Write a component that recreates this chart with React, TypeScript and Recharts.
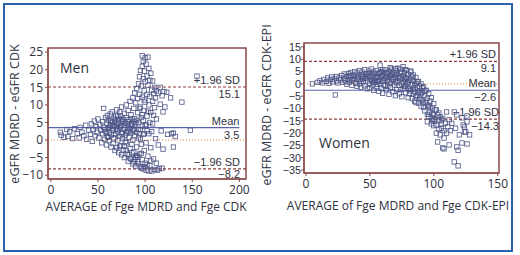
import React from 'react';
import { ScatterChart, Scatter, XAxis, YAxis, ReferenceLine, ReferenceArea } from 'recharts';

const FONT = '"Open Sans", "Noto Sans", sans-serif';
const SMALL_FONT = '"Liberation Sans", Arial, sans-serif';
const TEXT = '#2e3140';
const AXIS = '#8a4848';
const DOT = '#4e5688';

// Men: average vs difference (MDRD - CDK)
const MEN_X_TICKS = [0, 50, 100, 150, 200];
const MEN_Y_TICKS = [-10, -5, 0, 5, 10, 15, 20, 25];
const MEN_LIMITS = [15.1, 3.5, -8.2]; // +1.96 SD, mean, -1.96 SD

// Women: average vs difference (MDRD - CDK-EPI)
const WOMEN_X_TICKS = [0, 50, 100, 150];
const WOMEN_Y_TICKS = [-35, -30, -25, -20, -15, -10, -5, 0, 5, 10, 15];
const WOMEN_LIMITS = [9.1, -2.6, -14.3];

const MEN_POINTS: [number, number][] = [
  [10, 2.2], [11, 1.4], [14, 0.8], [17, 3], [18, 1], [20, 2.4], [23, 0.4], [25, 3.2], [28, 1.8], [30, 0.6],
  [31, 3.6], [33, 2.2], [35, 1.2], [37, 4.2], [38, 0.2], [40, 2.8], [42, 1.6], [43, 4.6], [44, -0.4], [45, 3],
  [46, 5.4], [47, 1.2], [48, 3.8], [49, 2.2], [50, 6], [51, 0.6], [52, 4.4], [53, 2.8], [54, -0.8], [55, 5.2],
  [55, 1.8], [56, 9], [56, 3.6], [57, 0.2], [58, 6.4], [58, 2.4], [59, 4.8], [59, -1.4], [60, 1], [60, 7],
  [61, 3.2], [61, 5.6], [62, -0.2], [62, 2], [63, 7.4], [63, 4], [64, -2], [64, 1.4], [65, 5], [65, 8],
  [66, 2.8], [66, -1], [67, 6.2], [67, 0.6], [68, 3.8], [68, -3], [69, 7], [69, 1.8], [70, 4.6], [70, -2.2],
  [70, 8.6], [71, 2.6], [71, 0], [72, 5.8], [72, -3.6], [73, 3.4], [73, 1], [74, 6.8], [74, -1.6], [75, 4.2],
  [75, 9.4], [75, -4.2], [75, 2], [73, 8], [76, 0.4], [76, 5.2], [77, -2.8], [77, 3], [78, 7.6], [78, -5],
  [79, 1.4], [79, 4.8], [80, -0.8], [80, 6.4], [80, 10], [81, 2.4], [81, -4], [82, 8.4], [82, -6], [82, 3.8],
  [83, 0.8], [83, 5.8], [84, -2.4], [84, 11], [85, 2], [85, -5.4], [85, 7.2], [86, 4.4], [86, -1.2], [87, 12],
  [87, 0], [87, -6.8], [88, 9], [88, 3], [88, -3.4], [89, 6], [89, 1.2], [89, 13.4], [90, -5], [90, 4.6],
  [90, 10.6], [90, -7.4], [91, 2.2], [91, 14.6], [91, -2], [92, 7.8], [92, -6.2], [92, 11.8], [93, 16], [93, 0.6],
  [93, 5], [94, -4], [94, 13], [94, 18], [95, 3], [95, -7.6], [95, 9.4], [95, 19.8], [96, 15.4], [96, -1.2],
  [96, 6.4], [97, 24], [97, 21], [97, -5.6], [97, 12.2], [98, 1.6], [98, 17.4], [98, -8.2], [98, 22.4], [99, 8.4],
  [99, -3], [99, 14], [99, 19.6], [100, 23.4], [100, 4], [100, -6.6], [100, 10.8], [100, 16.6], [101, 21.6], [101, -0.8],
  [101, -8.6], [102, 18.2], [102, 6.8], [102, 13], [103, 23.6], [103, -4.6], [103, 15.6], [104, 20.4], [104, 1.8], [104, 10],
  [105, -7.2], [105, 17], [105, 12.4], [106, 19], [106, -2.2], [106, 7.8], [107, 14.2], [107, -8.8], [108, 16.8], [108, 4.6],
  [108, 11], [109, -5.4], [109, 13.2], [110, 9.2], [110, -8.4], [110, 15], [111, 0.4], [111, 12], [112, -6.6], [112, 6],
  [112, 14], [113, -8.6], [114, 13.4], [114, -1.4], [115, -8.2], [116, 10.2], [116, 15], [117, 2.6], [118, -8], [118, 12.6],
  [119, -2.6], [119, 8], [120, 13.8], [121, 9.4], [123, 13.6], [124, 1.6], [127, 12], [128, 1.8], [130, 2], [130, -2],
  [132, 1], [139, 10.8], [148, 2.8], [155, 18.2],
  [62, 3.6], [64, 5.4], [66, 4.2], [68, 5.6], [70, 3.2], [72, 4.8], [74, 3.8], [76, 2.2], [78, 4.2], [80, 2],
  [82, 5.2], [84, 3.2], [86, 6], [88, 5.2], [78, -1.8], [80, -3], [83, -4.2], [86, -3.6], [89, -5.6], [92, -4.8],
  [94, 1.8], [96, -3.8], [98, 5.6], [102, 2.6], [94, 9], [97, 7.2], [99, 11.4],
  [57, 3], [59, 2], [61, 0.8], [63, 5.6], [65, 3.4], [67, 1.6], [69, 5.2], [71, 6.8], [73, -1.8], [75, 6],
  [77, 5.8], [79, -0.4], [81, 4.6], [83, 2.4], [85, 4.6], [87, 2.8], [89, 3.8], [91, 5.6], [93, 3], [95, 0.2],
  [97, 4], [99, 1.8], [101, 4.4], [103, 8.2], [105, 5], [107, 2.4], [109, 7], [91, -4.4], [93, -6.8], [96, -8],
  [99, -7.6], [102, -7], [104, -8.8], [106, -6], [84, -5.2], [88, -6.2],
];

const WOMEN_POINTS: [number, number][] = [
  [5, 0], [9, 0.6], [11, 1.2], [13, 0.4], [14, 1.8], [16, 1], [17, 2.4], [18, 0.2], [19, 1.6], [20, 2.8],
  [21, 0.8], [22, 2], [23, -4.5], [24, 3], [24, 1.2], [25, 0.4], [26, 2.4], [27, 1.6], [28, 3.4], [29, 0.6],
  [30, 2.2], [30, 4], [31, 1.2], [32, 3], [32, -0.2], [33, 4.2], [33, 1.8], [34, 0.6], [35, 2.8], [35, 4.6],
  [36, -0.6], [36, 1.4], [37, 3.6], [38, 2.2], [38, 5], [39, 0.2], [39, 3.2], [40, -1], [40, 4.4], [41, 1.6],
  [41, 2.8], [42, 5.4], [42, 0], [43, 3.8], [43, -1.4], [44, 2], [44, 4.8], [45, 0.8], [45, 3], [46, 5.8],
  [46, -0.8], [47, 2.4], [47, 4], [48, 1.2], [48, -2], [49, 3.4], [49, 5.2], [50, 0.2], [50, 2.6], [50, -1.6],
  [50, 4.4], [51, 1.8], [51, 6], [52, -0.4], [52, 3.6], [53, 4.8], [53, -2.6], [54, 2], [54, 0.8], [55, 5.4],
  [55, -1.2], [56, 3], [56, 1.4], [57, 4.2], [57, -3], [58, 7.6], [58, 2.4], [58, 0], [59, 5], [59, -1.8],
  [60, 3.4], [60, 1], [60, -3.8], [61, 4.6], [61, 2], [62, -0.8], [62, 5.8], [63, 3], [63, -2.4], [64, 1.4],
  [64, 4], [65, -4.2], [65, 2.6], [65, 5.2], [66, 0.2], [66, -1.6], [67, 3.6], [67, 6], [68, -3.2], [68, 1.8],
  [69, 4.4], [69, -0.4], [70, 2.8], [70, -4.8], [70, 5.4], [70, 0.8], [71, -2.4], [71, 3.8], [72, 1.2], [72, 6.4],
  [73, -4], [73, -0.6], [74, 4.8], [74, 2.2], [75, -5.2], [75, 0], [76, 3.2], [76, 7], [76, -2], [77, 1.6],
  [77, 4.6], [78, -3.6], [78, -0.8], [79, 2.6], [79, 5.4], [80, -5.6], [80, 0.6], [80, 3.8], [81, -1.8], [81, -4],
  [82, 2], [82, 4.8], [83, -0.4], [83, -6], [84, 1.4], [84, 3.6], [85, -3], [85, -7], [86, 0.2], [86, 2.6],
  [87, -4.6], [87, -1.6], [88, 1], [88, -7.8], [89, -2.8], [89, -5.8], [90, 0], [90, -9], [91, -3.4], [91, -6.6],
  [92, -1.2], [92, -9.6], [93, -4.8], [93, -11], [94, -7.6], [94, -2.6], [95, -5.8], [95, -12.4], [95, -15.4], [96, -9],
  [96, -4], [97, -11.6], [97, -7], [98, -13.8], [98, -5.6], [99, -9.8], [99, -15], [100, -8], [100, -12.4], [100, -17],
  [101, -10.6], [101, -14.4], [102, -16.7], [102, -20], [102, -10.6], [103, -12.6], [103, -23.6], [104, -15], [104, -18.4], [105, -13.4],
  [105, -20.7], [106, -16.4], [106, -18], [107, -26], [107, -14], [108, -22], [108, -19], [108, -26.4], [109, -16], [110, -11.4],
  [110, -20], [111, -17.4], [112, -24.8], [112, -14.6], [113, -19], [114, -16], [116, -11.4], [116, -31.7], [117, -18], [118, -12.6],
  [118, -25.6], [119, -27], [119, -33.3], [120, -20.7], [122, -13.8], [122, -24], [123, -16.7], [124, -19.5], [124, -17.5], [125, -19.5],
  [126, -15.4], [126, -24.4], [126, -13], [128, -20.7],
  [44, 3.2], [52, 1.2], [54, 4.2], [56, -0.2], [58, 4.6], [62, 2.2], [64, -1], [66, 3.4], [68, 4.6], [72, 2.6],
  [74, -2.4], [76, 0.8], [78, 2.2], [80, -2.2], [82, -2.8], [84, -1.8], [86, -5.2], [88, -3.6], [90, -6.4], [92, -7.4],
  [34, 3.4], [37, 1.8], [40, 2.4], [43, 1], [46, 2.2], [48, 4.2], [51, 3.2], [53, 0.6], [55, 2.6], [57, 1],
  [59, 3], [61, -0.4], [63, 4.6], [65, 0.8], [67, 2], [69, 2.6], [71, 0.4], [73, 3.2], [75, 4.4], [77, -1],
  [79, 0.2], [81, 1.4], [83, 2.8], [85, -0.6], [87, 0.8], [89, -1], [91, -1.6], [93, -2.8], [95, -8.6], [97, -9.4],
  [99, -12.2], [60, 5.6], [66, 6.6], [70, 6.2], [74, 6], [78, 5.8], [82, 5.2], [84, -4], [86, -7.6], [90, -4],
  [96, -13.2], [98, -16.2], [100, -14.6], [104, -11.8], [106, -14.6],
];

const toRows = (pts: [number, number][]) => pts.map(([avg, diff]) => ({ avg, diff }));

const Square = (props: any) => {
  const { cx, cy } = props;
  if (cx == null || cy == null) return null;
  return <rect x={cx - 2.2} y={cy - 2.2} width={4.4} height={4.4} fill="none" stroke={DOT} strokeWidth={0.8} />;
};

// text above and below the right end of a limit line
const LineLabel = (props: any) => {
  const { viewBox, top, bottom, inset = 6, below = 11 } = props;
  if (!viewBox) return null;
  const x = viewBox.x + viewBox.width - inset;
  const y = viewBox.y;
  return (
    <g fontFamily={SMALL_FONT} fontSize={11} fill={TEXT}>
      <text x={x} y={y - 3} textAnchor="end">{top}</text>
      <text x={x} y={y + below} textAnchor="end">{bottom}</text>
    </g>
  );
};

const fmt = (v: number) => (v < 0 ? '\u2212' + Math.abs(v) : String(v));

const tickStyle = { fill: TEXT, fontSize: 12, fontFamily: FONT };
// the women's y ticks sit only 12px apart, so use a font with a shorter line box
const tightTickStyle = { fill: TEXT, fontSize: 10.8, fontFamily: SMALL_FONT };

function MenChart() {
  const xd: [number, number] = [-3, 207];
  const yd: [number, number] = [-11.1, 26.2];
  return (
    <ScatterChart width={260} height={255} margin={{ top: 48, right: 14, bottom: 56, left: 8 }}>
      <XAxis type="number" dataKey="avg" domain={xd} ticks={MEN_X_TICKS} allowDataOverflow interval={0}
        height={20} tick={tickStyle} tickSize={3} tickMargin={3} stroke={AXIS} tickFormatter={fmt} />
      <YAxis type="number" dataKey="diff" domain={yd} ticks={MEN_Y_TICKS} allowDataOverflow interval={0}
        width={40} tick={tickStyle} tickSize={3} tickMargin={2} stroke={AXIS} tickFormatter={fmt} />
      <ReferenceArea x1={xd[0]} x2={xd[1]} y1={yd[0]} y2={yd[1]} fill="none" stroke={AXIS} strokeWidth={1.5} />
      <ReferenceLine y={0} segment={[{ x: 0, y: 0 }, { x: 166, y: 0 }]} stroke="#d9863a" strokeDasharray="1 2" />
      <Scatter data={toRows(MEN_POINTS)} shape={Square} isAnimationActive={false} />
      <ReferenceLine y={MEN_LIMITS[0]} stroke="#8e3b3b" strokeDasharray="3 2" strokeWidth={1.2}
        label={<LineLabel top="+1.96 SD" bottom={String(MEN_LIMITS[0])} />} />
      <ReferenceLine segment={[{ x: xd[0], y: MEN_LIMITS[1] }, { x: 200, y: MEN_LIMITS[1] }]} stroke="#5a63b0" strokeWidth={1.2}
        label={<LineLabel top="Mean" bottom={String(MEN_LIMITS[1])} inset={0} />} />
      <ReferenceLine y={MEN_LIMITS[2]} stroke="#8e3b3b" strokeDasharray="3 2" strokeWidth={1.2}
        label={<LineLabel top={'\u22121.96 SD'} bottom={fmt(MEN_LIMITS[2])} below={9.5} />} />
    </ScatterChart>
  );
}

function WomenChart() {
  const xd: [number, number] = [-1.5, 151];
  const yd: [number, number] = [-36.2, 16.6];
  return (
    <ScatterChart width={260} height={255} margin={{ top: 43, right: 21, bottom: 62, left: 4 }}>
      <XAxis type="number" dataKey="avg" domain={xd} ticks={WOMEN_X_TICKS} allowDataOverflow interval={0}
        height={20} tick={tickStyle} tickSize={3} tickMargin={3} stroke={AXIS} tickFormatter={fmt} />
      <YAxis type="number" dataKey="diff" domain={yd} ticks={WOMEN_Y_TICKS} allowDataOverflow interval={0}
        width={40} tick={tightTickStyle} tickSize={3} tickMargin={0} stroke={AXIS} tickFormatter={fmt} />
      <ReferenceArea x1={xd[0]} x2={xd[1]} y1={yd[0]} y2={yd[1]} fill="none" stroke={AXIS} strokeWidth={1.5} />
      <ReferenceLine y={0} stroke="#d9863a" strokeDasharray="1 2" />
      <Scatter data={toRows(WOMEN_POINTS)} shape={Square} isAnimationActive={false} />
      <ReferenceLine y={WOMEN_LIMITS[0]} stroke="#8e3b3b" strokeDasharray="3 2" strokeWidth={1.2}
        label={<LineLabel top="+1.96 SD" bottom={String(WOMEN_LIMITS[0])} inset={3} />} />
      <ReferenceLine y={WOMEN_LIMITS[1]} stroke="#5a63b0" strokeWidth={1.2}
        label={<LineLabel top="Mean" bottom={fmt(WOMEN_LIMITS[1])} inset={3} />} />
      <ReferenceLine y={WOMEN_LIMITS[2]} stroke="#8e3b3b" strokeDasharray="3 2" strokeWidth={1.2}
        label={<LineLabel top={'\u22121.96 SD'} bottom={fmt(WOMEN_LIMITS[2])} inset={0} />} />
    </ScatterChart>
  );
}

export default function App() {
  return (
    <div style={{ position: 'absolute', left: 0, top: 0, width: 520, height: 255, background: '#fff' }}>
      <div style={{ position: 'absolute', left: 0, top: 0 }}><MenChart /></div>
      <div style={{ position: 'absolute', left: 260, top: 0 }}><WomenChart /></div>
      <svg width={520} height={255} style={{ position: 'absolute', left: 0, top: 0, pointerEvents: 'none' }}
        fontFamily={FONT} fill={TEXT}>
        <rect x={4} y={4} width={508} height={247} fill="none" stroke="#2a62b0" strokeWidth={2} />
        <text transform="translate(18.5,114) rotate(-90)" textAnchor="middle" fontSize={12.5}>eGFR MDRD - eGFR CDK</text>
        <text x={146} y={211} textAnchor="middle" fontSize={12}>AVERAGE of Fge MDRD and Fge CDK</text>
        <text transform="translate(271,105) rotate(-90)" textAnchor="middle" fontSize={12.5}>eGFR MDRD - eGFR CDK-EPI</text>
        <text x={398} y={210} textAnchor="middle" fontSize={12}>AVERAGE of Fge MDRD and Fge CDK-EPI</text>
        <text x={60} y={73} fontSize={14}>Men</text>
        <text x={319} y={148} fontSize={14}>Women</text>
      </svg>
    </div>
  );
}
